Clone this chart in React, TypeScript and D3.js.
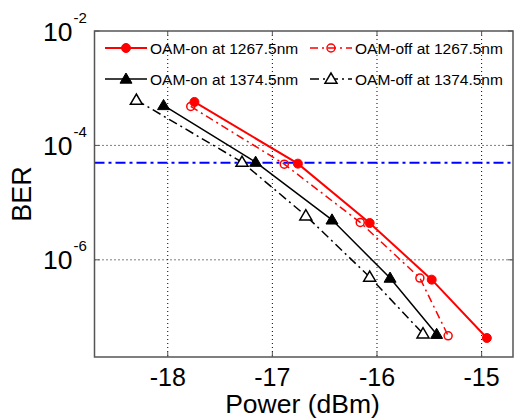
import React from "react";
import * as d3 from "d3";

const W = 514;
const H = 418;

const xTicks = [-18, -17, -16, -15];
const yTickExps = [-2, -4, -6];
const yGrid = [1e-4, 1e-6];

const powerOnRed = [-17.745, -16.756, -16.07, -15.477, -14.95];
const berOnRed = [5.75e-4, 4.8e-5, 4.4e-6, 4.5e-7, 4.3e-8];
const powerOffRed = [-17.78, -16.886, -16.16, -15.59, -15.32];
const berOffRed = [4.8e-4, 4.7e-5, 4.5e-6, 4.8e-7, 4.7e-8];
const powerOnBlack = [-18.04, -17.16, -16.43, -15.875, -15.43];
const berOnBlack = [5.0e-4, 5.1e-5, 5.0e-6, 4.8e-7, 5.0e-8];
const powerOffBlack = [-18.3, -17.29, -16.68, -16.07, -15.56];
const berOffBlack = [6.2e-4, 5.1e-5, 5.9e-6, 5.0e-7, 5.1e-8];
const threshold = 5e-5;

const legendLabels = [
  "OAM-on at 1267.5nm",
  "OAM-off at 1267.5nm",
  "OAM-on at 1374.5nm",
  "OAM-off at 1374.5nm",
];

const L = 94.5, R = 513, T = 31, B = 357;
const x = d3.scaleLinear().domain([-18.7, -14.7]).range([L, R]);
const y = d3.scaleLog().domain([2e-8, 1e-2]).range([B, T]);

const FONT = "'Liberation Sans', Arial, sans-serif";

type Series = {
  xs: number[];
  ys: number[];
  color: string;
  width: number;
  dash?: string;
  marker: "dot" | "circle" | "tri" | "otri";
};

const series: Series[] = [
  { xs: powerOffBlack, ys: berOffBlack, color: "#000", width: 1.5, dash: "9,4,2,4", marker: "otri" },
  { xs: powerOnBlack, ys: berOnBlack, color: "#000", width: 1.5, marker: "tri" },
  { xs: powerOffRed, ys: berOffRed, color: "#ff0000", width: 1.5, dash: "8,4,2,4", marker: "circle" },
  { xs: powerOnRed, ys: berOnRed, color: "#ff0000", width: 2, marker: "dot" },
];

function Marker({ cx, cy, kind, color }: { cx: number; cy: number; kind: string; color: string }) {
  if (kind === "dot") return <circle cx={cx} cy={cy} r={4.5} fill={color} stroke={color} strokeWidth={1} />;
  if (kind === "circle") return <circle cx={cx} cy={cy} r={4} fill="none" stroke={color} strokeWidth={1.5} />;
  const s = 6;
  const pts = `${cx},${cy - s} ${cx - s},${cy + s * 0.7} ${cx + s},${cy + s * 0.7}`;
  if (kind === "tri") return <polygon points={pts} fill={color} stroke={color} strokeWidth={1} />;
  return <polygon points={pts} fill="#fff" stroke={color} strokeWidth={1.5} />;
}

export default function App() {
  const line = d3
    .line<[number, number]>()
    .x((d) => x(d[0]))
    .y((d) => y(d[1]));

  const legendItems = [
    { s: series[3], label: legendLabels[0], lx: 105, ty: 48 },
    { s: series[2], label: legendLabels[1], lx: 310, ty: 48 },
    { s: series[1], label: legendLabels[2], lx: 105, ty: 79 },
    { s: series[0], label: legendLabels[3], lx: 310, ty: 79 },
  ];

  return (
    <svg width={W} height={H} style={{ position: "absolute", left: 0, top: 0, background: "#fff" }} fontFamily={FONT}>
      <rect x={0} y={0} width={W} height={H} fill="#fff" />
      <defs>
        <clipPath id="plot">
          <rect x={L} y={T} width={R - L} height={B - T} />
        </clipPath>
      </defs>
      {/* grid */}
      {xTicks.map((t) => (
        <line key={"gx" + t} x1={x(t)} x2={x(t)} y1={T} y2={B} stroke="#000" strokeWidth={1} strokeDasharray="1,3" />
      ))}
      {yGrid.map((t) => (
        <line key={"gy" + t} x1={L} x2={R} y1={y(t)} y2={y(t)} stroke="#000" strokeWidth={1} strokeDasharray="1,3" />
      ))}
      {/* threshold */}
      <line x1={L} x2={R} y1={y(threshold)} y2={y(threshold)} stroke="#0000ff" strokeWidth={2} strokeDasharray="10,4,3,4" />
      {/* series */}
      <g clipPath="url(#plot)">
        {series.map((s, i) => {
          const pts = s.xs.map((v, j) => [v, s.ys[j]] as [number, number]);
          return (
            <g key={i}>
              <path d={line(pts) || ""} fill="none" stroke={s.color} strokeWidth={s.width} strokeDasharray={s.dash} />
              {pts.map((p, j) => (
                <Marker key={j} cx={x(p[0])} cy={y(p[1])} kind={s.marker} color={s.color} />
              ))}
            </g>
          );
        })}
      </g>
      {/* legend */}
      {legendItems.map((it, i) => (
        <g key={"lg" + i}>
          <line x1={it.lx} x2={it.lx + 42} y1={it.ty} y2={it.ty} stroke={it.s.color} strokeWidth={it.s.width} strokeDasharray={it.s.dash} />
          <Marker cx={it.lx + 21} cy={it.ty} kind={it.s.marker} color={it.s.color} />
          <text x={it.lx + 45} y={it.ty + 5.5} fontSize={15.5} fill="#000">
            {it.label}
          </text>
        </g>
      ))}
      {/* axes box */}
      <rect x={L} y={T} width={R - L} height={B - T} fill="none" stroke="#555" strokeWidth={1.5} />
      {xTicks.map((t) => (
        <g key={"tx" + t}>
          <line x1={x(t)} x2={x(t)} y1={B} y2={B - 5} stroke="#555" />
          <line x1={x(t)} x2={x(t)} y1={T} y2={T + 5} stroke="#555" />
          <text x={x(t)} y={386} textAnchor="middle" fontSize={25} fill="#000">
            {t}
          </text>
        </g>
      ))}
      {yTickExps.map((e) => {
        const yy = y(Math.pow(10, e));
        return (
          <g key={"ty" + e}>
            <line x1={L} x2={L + 5} y1={yy} y2={yy} stroke="#555" />
            <line x1={R} x2={R - 5} y1={yy} y2={yy} stroke="#555" />
            <text x={72.5} y={yy + 9.5} textAnchor="end" fontSize={26.5} fill="#000">
              10
            </text>
            <text x={73.5} y={yy - 8.5} textAnchor="start" fontSize={15} fill="#000">
              {"-" + Math.abs(e)}
            </text>
          </g>
        );
      })}
      <text x={302.5} y={413} textAnchor="middle" fontSize={26.5} fill="#000">
        Power (dBm)
      </text>
      <text transform={`translate(31,194) rotate(-90)`} textAnchor="middle" fontSize={27} fill="#000">
        BER
      </text>
    </svg>
  );
}
